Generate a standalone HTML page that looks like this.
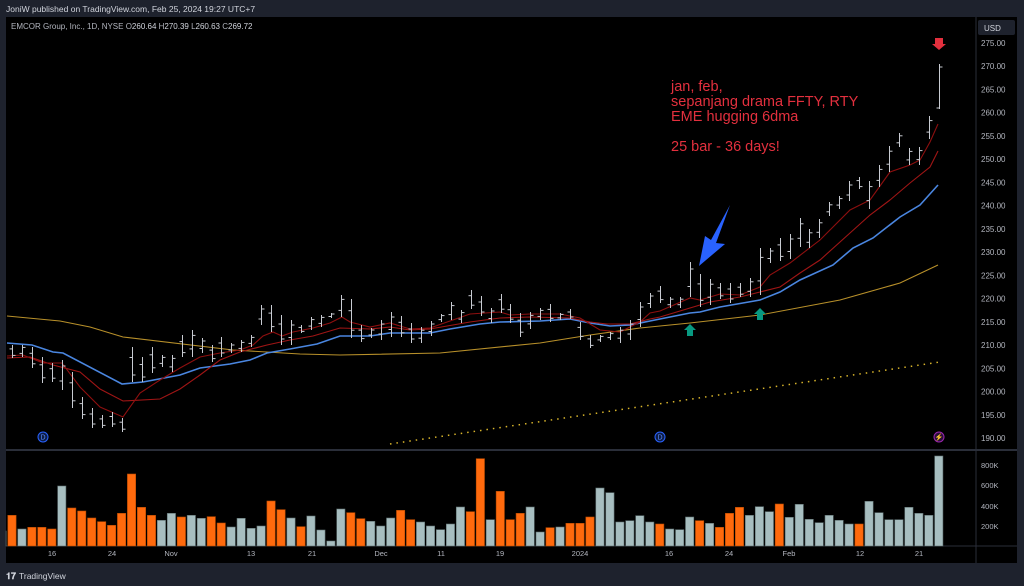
<!DOCTYPE html>
<html><head><meta charset="utf-8"><style>
body{margin:0;background:#1e222d;width:1024px;height:586px;overflow:hidden;font-family:"Liberation Sans",sans-serif}
svg{position:absolute;left:0;top:0}
</style></head><body>
<svg id="s" width="1024" height="586" xmlns="http://www.w3.org/2000/svg" font-family="Liberation Sans, sans-serif">
<rect x="0" y="0" width="1024" height="586" fill="#1e222d"/>
<rect x="6" y="17" width="1011" height="546" fill="#000"/>
<line x1="976" y1="17" x2="976" y2="563" stroke="#2a2e39"/>
<line x1="6" y1="450" x2="1017" y2="450" stroke="#2a2e39" stroke-width="2"/>
<line x1="6" y1="546" x2="1017" y2="546" stroke="#2a2e39"/>
<text x="6" y="12" fill="#d1d4dc" font-size="8.5">JoniW published on TradingView.com, Feb 25, 2024 19:27 UTC+7</text>
<text x="11" y="29" fill="#b2b5be" font-size="8">EMCOR Group, Inc., 1D, NYSE  O<tspan fill="#d1d4dc">260.64</tspan>  H<tspan fill="#d1d4dc">270.39</tspan>  L<tspan fill="#d1d4dc">260.63</tspan>  C<tspan fill="#d1d4dc">269.72</tspan></text>
<rect x="978" y="20" width="37" height="15" rx="2" fill="#1e222d"/>
<text x="984" y="31" fill="#d1d4dc" font-size="8">USD</text>
<g id="yl" fill="#b2b5be" font-size="8"></g>
<g id="vol"></g>
<g id="ma" fill="none" stroke-width="1.3"></g>
<g id="bars" stroke="#c8cbd2" stroke-width="1"></g>
<polyline points="390,444 940,362" stroke="#d9b52b" stroke-width="1.5" stroke-dasharray="1.5,5" fill="none"/>
<g fill="#e3303e" font-size="14.5">
<text x="671" y="91">jan, feb,</text>
<text x="671" y="106">sepanjang drama FFTY, RTY</text>
<text x="671" y="121">EME hugging 6dma</text>
<text x="671" y="151">25 bar - 36 days!</text>
</g>
<polygon points="730,205 716,243 725,244 699,266 705,236 711,240" fill="#2962ff"/>
<polygon points="690,324 696,330 693,330 693,336 687,336 687,330 684,330" fill="#089981"/>
<polygon points="760,308 766,314 763,314 763,320 757,320 757,314 754,314" fill="#089981"/>
<polygon points="935,38 943,38 943,44 946,44 939,50 932,44 935,44" fill="#e3303e"/>
<g font-size="7" text-anchor="middle">
<circle cx="43" cy="437" r="5" fill="#0d1d45" stroke="#2962ff"/><text x="43" y="439.5" fill="#5b8cff">D</text>
<circle cx="660" cy="437" r="5" fill="#0d1d45" stroke="#2962ff"/><text x="660" y="439.5" fill="#5b8cff">D</text>
<circle cx="939" cy="437" r="5" fill="#2a0f3a" stroke="#9c27b0"/><text x="939" y="439.5" fill="#c77dff">⚡</text>
</g>
<g fill="#b2b5be" font-size="7.5" text-anchor="middle">
<text x="52" y="556">16</text><text x="112" y="556">24</text><text x="171" y="556">Nov</text><text x="251" y="556">13</text><text x="312" y="556">21</text><text x="381" y="556">Dec</text><text x="441" y="556">11</text><text x="500" y="556">19</text><text x="580" y="556">2024</text><text x="669" y="556">16</text><text x="729" y="556">24</text><text x="789" y="556">Feb</text><text x="860" y="556">12</text><text x="919" y="556">21</text>
</g>
<g fill="#b2b5be" font-size="7.5">
<text x="981" y="468">800K</text><text x="981" y="488">600K</text><text x="981" y="509">400K</text><text x="981" y="529">200K</text>
</g>
<text x="6" y="579" fill="#d1d4dc" font-size="9" font-weight="bold">𝟏𝟕</text>
<text x="19" y="579" fill="#d1d4dc" font-size="8.5">TradingView</text>
</svg>
<script>
(function(){
var NS="http://www.w3.org/2000/svg";
function el(p,t,a){var e=document.createElementNS(NS,t);for(var k in a)e.setAttribute(k,a[k]);document.getElementById(p).appendChild(e);return e;}
for(var p=275;p>=190;p-=5){var y=43+(275-p)*4.647;var t=el("yl","text",{x:981,y:y+3});t.textContent=p.toFixed(2);}
var vt=[243,196,237,232,232,237,108,174,183,204,215,226,190,72,172,196,211,190,201,196,205,200,219,231,205,235,228,153,179,204,230,198,240,273,177,188,206,214,228,204,181,209,216,228,239,222,171,185,26,209,124,209,190,171,246,233,231,220,220,201,114,128,216,212,197,216,222,237,239,201,212,220,232,190,172,196,170,185,162,202,163,208,218,196,211,222,222,154,188,209,209,172,190,196,18];
var vc="gogooogooo"+"ooooooggog"+"googgggoog"+"oggggooggg"+"oogggggoog"+"oooggogooo"+"ggggggoggg"+"ogooogggog"+"ggggggoggg"+"ggggg";
for(var i=0;i<vt.length;i++){var x=7.8+(i-1)*9.966;var vtop=450+vt[i]/3;var o=vc[i]=="o";var xx=Math.max(x,6);
el("vol","rect",{x:xx,y:vtop,width:x+8.3-xx,height:546-vtop,fill:o?"#ff6a0d":"#a7bec0",stroke:o?"#b84a00":"#5f7071","stroke-width":0.6});}
var hl=[[345,358],[345,357],[347,368],[357,383],[363,382],[360,390],[372,408],[397,419],[408,428],[415,428],[412,427],[418,432],[347,382],[357,382],[347,373],[355,367],[355,372],[335,357],[330,357],[338,353],[345,362],[337,357],[343,353],[340,352],[335,347],[305,325],[305,332],[315,345],[320,345],[325,333],[317,330],[315,327],[313,318],[295,317],[299,338],[325,342],[328,338],[320,340],[312,337],[316,337],[323,343],[327,343],[321,336],[314,322],[302,320],[310,323],[290,309],[296,316],[308,323],[294,313],[304,323],[313,337],[312,329],[308,320],[304,322],[313,320],[309,319],[322,340],[335,348],[335,342],[332,340],[327,343],[320,340],[302,327],[293,308],[286,303],[297,308],[297,308],[262,297],[274,307],[279,305],[283,299],[283,303],[283,297],[278,297],[248,295],[248,263],[238,261],[234,259],[218,247],[229,248],[219,238],[202,216],[196,209],[181,201],[177,189],[181,209],[165,187],[146,172],[133,147],[148,165],[147,165],[116,139],[64,109]];
for(var i=0;i<hl.length;i++){var b=i+2;var cx=Math.round(12.2+(b-2)*9.966)+0.5;var h=hl[i][0],l=hl[i][1],r=l-h;var dn=vc[b-1]=="o";
var op=dn?h+r*0.3:l-r*0.3,cl=dn?l-r*0.2:h+r*0.2;if(b==95){op=108;cl=67;}
el("bars","line",{x1:cx,y1:h,x2:cx,y2:l});el("bars","line",{x1:cx-3,y1:op,x2:cx,y2:op});el("bars","line",{x1:cx,y1:cl,x2:cx+3,y2:cl});}
function pl(pts,c,w){el("ma","polyline",{points:pts,stroke:c,"stroke-width":w});}
pl("7,316 60,321 90,327 123,337 233,350 300,354 340,355 440,353 540,343 590,335 640,328 690,323 760,315 840,300 900,283 938,265","#b8902a",1.1);
pl("7,343 32,345 53,352 63,353 122,384 143,382 180,375 200,368 230,364 250,360 267,353 290,349 317,344 340,336 370,336 390,333 430,333 450,329 480,324 500,322 540,321 570,319 590,323 610,326 630,325 650,321 660,319 690,313 700,312 720,307 760,300 780,292 800,280 833,265 853,248 873,238 900,217 920,205 938,185","#4a86e0",1.6);
pl("7,358 30,357 53,365 80,372 100,389 123,401 160,399 180,389 200,375 220,360 240,352 267,345 290,340 313,336 340,328 370,329 390,327 410,330 430,329 470,322 500,318 530,317 570,318 590,322 607,324 630,324 650,319 660,317 690,308 710,302 740,297 760,292 780,287 800,273 820,260 850,233 870,215 890,200 910,183 930,167 938,151","#a01515",1.1);
pl("7,356 23,355 43,363 62,363 80,387 100,407 123,417 140,393 160,380 180,368 200,357 220,353 240,350 253,345 263,336 273,332 282,336 293,332 313,328 330,323 342,317 350,322 370,327 390,323 410,329 430,328 450,321 470,314 500,312 510,315 530,314 560,314 580,318 600,330 620,332 640,322 650,313 660,311 690,298 700,300 720,294 740,295 760,287 770,275 790,263 820,240 850,210 870,200 890,172 910,165 920,160 930,142 938,124","#8e0f0f",1.1);
})();
</script>
</body></html>
